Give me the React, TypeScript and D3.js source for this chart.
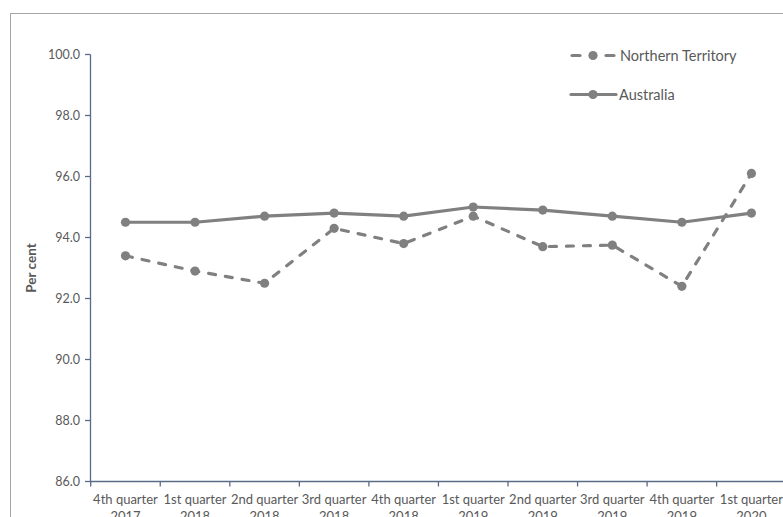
import React from "react";
import * as d3 from "d3";

const categories: string[][] = [
  ["4th quarter", "2017"],
  ["1st quarter", "2018"],
  ["2nd quarter", "2018"],
  ["3rd quarter", "2018"],
  ["4th quarter", "2018"],
  ["1st quarter", "2019"],
  ["2nd quarter", "2019"],
  ["3rd quarter", "2019"],
  ["4th quarter", "2019"],
  ["1st quarter", "2020"],
];
const ntValues = [93.4, 92.9, 92.5, 94.3, 93.8, 94.7, 93.7, 93.75, 92.4, 96.1];
const ausValues = [94.5, 94.5, 94.7, 94.8, 94.7, 95.0, 94.9, 94.7, 94.5, 94.8];
const yTicks = [86, 88, 90, 92, 94, 96, 98, 100];
const seriesNames = ["Northern Territory", "Australia"];

const W = 783;
const H = 517;
const LINE = "#808080";
const AXIS = "#5b6b87";
const TEXT = "#595959";
const FONT = "Lato, 'Open Sans', sans-serif";

export default function App() {
  const keys = categories.map((c) => c.join(" "));
  const x = d3.scaleBand<string>().domain(keys).range([90.7, 786.2]).padding(0);
  const y = d3.scaleLinear().domain([86, 100]).range([481.5, 54.5]);
  const cx = (i: number) => (x(keys[i]) as number) + x.bandwidth() / 2;

  const line = d3
    .line<number>()
    .x((_, i) => cx(i))
    .y((d) => y(d));

  return (
    <svg
      width={W}
      height={H}
      style={{ position: "absolute", left: 0, top: 0, background: "#fff" }}
      fontFamily={FONT}
    >
      <rect x={0} y={0} width={W} height={H} fill="#fff" />
      <rect x={10.5} y={13.5} width={900} height={700} fill="none" stroke="#a6a6a6" strokeWidth={1} />

      {/* Y axis */}
      <line x1={90.5} x2={90.5} y1={y(100)} y2={y(86)} stroke={AXIS} strokeWidth={1.3} />
      {yTicks.map((t) => (
        <g key={t}>
          <line x1={85} x2={90.5} y1={y(t)} y2={y(t)} stroke={AXIS} strokeWidth={1.3} />
          <text x={80} y={y(t)} dy="0.35em" textAnchor="end" fontSize={12.5} fill={TEXT}>
            {t.toFixed(1)}
          </text>
        </g>
      ))}
      <text
        transform={`translate(36,${(y(100) + y(86)) / 2}) rotate(-90)`}
        textAnchor="middle"
        fontSize={13.5}
        fontWeight="bold"
        fill={TEXT}
      >
        Per cent
      </text>

      {/* X axis */}
      <line x1={90} x2={W} y1={y(86)} y2={y(86)} stroke={AXIS} strokeWidth={1.6} />
      {keys.map((k) => (
        <line key={k + "t"} x1={x(k) as number} x2={x(k) as number} y1={y(86)} y2={y(86) + 5} stroke={AXIS} strokeWidth={1.3} />
      ))}
      {categories.map((c, i) => (
        <text key={i} x={cx(i)} y={504} textAnchor="middle" fontSize={13} fill={TEXT}>
          <tspan x={cx(i)}>{c[0]}</tspan>
          <tspan x={cx(i)} dy={17}>{c[1]}</tspan>
        </text>
      ))}

      {/* Australia */}
      <path d={line(ausValues) || ""} fill="none" stroke={LINE} strokeWidth={3.2} strokeLinejoin="round" />
      {ausValues.map((v, i) => (
        <circle key={"a" + i} cx={cx(i)} cy={y(v)} r={4.6} fill={LINE} />
      ))}

      {/* Northern Territory */}
      <path
        d={line(ntValues) || ""}
        fill="none"
        stroke={LINE}
        strokeWidth={3.2}
        strokeDasharray="7,10"
        strokeLinecap="round"
        strokeLinejoin="round"
      />
      {ntValues.map((v, i) => (
        <circle key={"n" + i} cx={cx(i)} cy={y(v)} r={4.6} fill={LINE} />
      ))}

      {/* Legend */}
      <g>
        <line x1={572} x2={580} y1={55.5} y2={55.5} stroke={LINE} strokeWidth={3.2} strokeLinecap="round" />
        <line x1={606} x2={614} y1={55.5} y2={55.5} stroke={LINE} strokeWidth={3.2} strokeLinecap="round" />
        <circle cx={593} cy={55.5} r={4.6} fill={LINE} />
        <text x={620} y={55.5} dy="0.35em" fontSize={14.5} fill={TEXT}>
          {seriesNames[0]}
        </text>
        <line x1={571} x2={616} y1={94.5} y2={94.5} stroke={LINE} strokeWidth={3.2} strokeLinecap="round" />
        <circle cx={593} cy={94.5} r={4.6} fill={LINE} />
        <text x={619} y={94.5} dy="0.35em" fontSize={14.5} fill={TEXT}>
          {seriesNames[1]}
        </text>
      </g>
    </svg>
  );
}
